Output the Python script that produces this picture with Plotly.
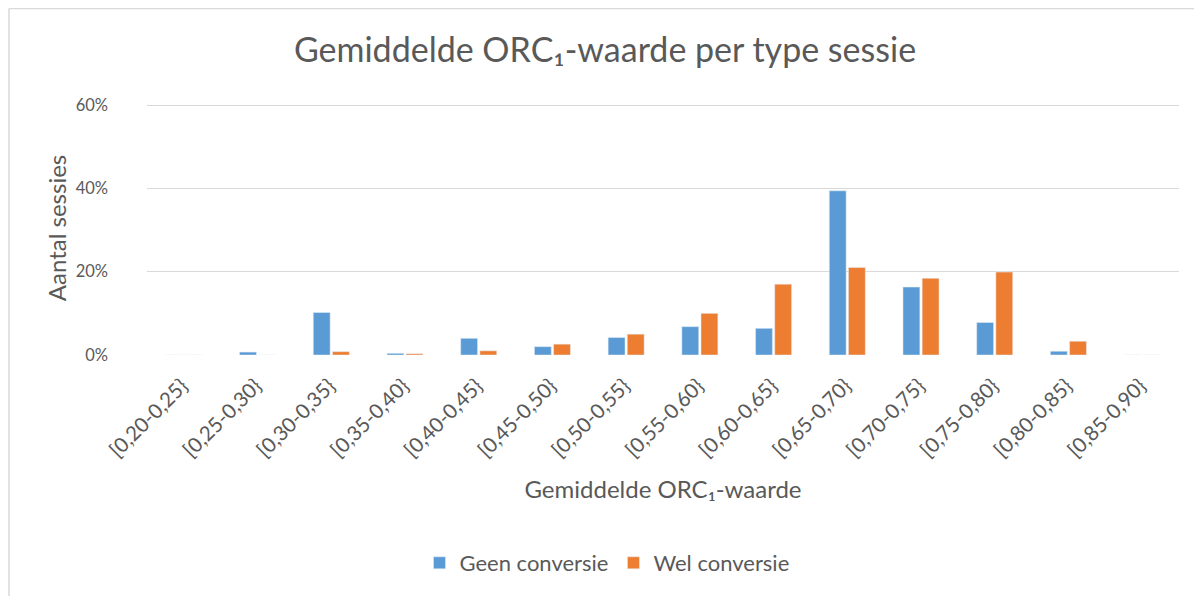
import plotly.graph_objects as go

categories = ["[0,20-0,25}", "[0,25-0,30}", "[0,30-0,35}", "[0,35-0,40}", "[0,40-0,45}",
              "[0,45-0,50}", "[0,50-0,55}", "[0,55-0,60}", "[0,60-0,65}", "[0,65-0,70}",
              "[0,70-0,75}", "[0,75-0,80}", "[0,80-0,85}", "[0,85-0,90}"]
geen_conversie = [0.0, 0.7, 10.2, 0.4, 4.0, 2.0, 4.2, 6.8, 6.4, 39.4, 16.3, 7.8, 0.9, 0.0]
wel_conversie = [0.0, 0.0, 0.8, 0.3, 1.0, 2.6, 5.0, 10.0, 17.0, 21.0, 18.4, 19.9, 3.3, 0.0]
y_ticks = [0, 20, 40, 60]
y_tick_labels = ["0%", "20%", "40%", "60%"]

FONT = "Lato, 'Open Sans', sans-serif"
TXT = "#595959"

fig = go.Figure()
fig.add_trace(go.Bar(x=categories, y=geen_conversie, name="Geen conversie",
                     marker=dict(color="#5B9BD5")))
fig.add_trace(go.Bar(x=categories, y=wel_conversie, name="Wel conversie",
                     marker=dict(color="#ED7D31")))

# page is rendered with an 8px body offset; figure coords = page coords - 8
OFF = 8
EXTRA = 4  # extra room above the 60% gridline so it is not hidden at the plot edge
W, H = 1194, 588
L, R, T, B = 147 - OFF, 23, 105 - OFF - EXTRA, 241
pw, ph = W - L - R, H - T - B
y_top = 60 * ph / (ph - EXTRA)

def px_to_paper_x(px):
    return (px - OFF - L) / pw

def px_to_paper_y(py):
    return (H - B - (py - OFF)) / ph

fig.update_layout(
    width=W, height=H,
    margin=dict(l=L, r=R, t=T, b=B, autoexpand=False),
    paper_bgcolor="white", plot_bgcolor="white",
    font=dict(family=FONT, color=TXT),
    title=dict(text="Gemiddelde ORC\u2081-waarde per type sessie",
               font=dict(size=34, color=TXT, family=FONT),
               x=(605 - OFF) / W, xanchor="center", xref="container",
               y=1 - (50 - OFF) / H, yanchor="middle", yref="container"),
    barmode="group", bargap=0.48, bargroupgap=0.12,
    showlegend=True,
    legend=dict(orientation="h", x=px_to_paper_x(607), xanchor="center",
                y=px_to_paper_y(563), yanchor="middle",
                font=dict(size=22, color=TXT, family=FONT),
                itemwidth=30, traceorder="normal"),
    xaxis=dict(
        tickangle=-45, tickfont=dict(size=20.5, color=TXT),
        showgrid=False, showline=False, zeroline=False, ticks="",
        ticklabelstandoff=14, ticklabelshift=-2,
        automargin=False,
        title=dict(text="Gemiddelde ORC\u2081-waarde", font=dict(size=24, color=TXT), standoff=20),
    ),
    yaxis=dict(
        range=[0, y_top], tickvals=y_ticks, ticktext=y_tick_labels,
        tickfont=dict(size=16.5, color=TXT),
        showgrid=True, gridcolor="#D9D9D9", gridwidth=1.2,
        zeroline=False, showline=False, ticks="",
        ticklabelstandoff=38, automargin=False,
        title=dict(text="Aantal sessies", font=dict(size=24, color=TXT), standoff=2),
    ),
    shapes=[
        dict(type="line", xref="paper", yref="paper",
             x0=px_to_paper_x(9), x1=px_to_paper_x(1220),
             y0=px_to_paper_y(8.5), y1=px_to_paper_y(8.5),
             line=dict(color="#D9D9D9", width=1.5)),
        dict(type="line", xref="paper", yref="paper",
             x0=px_to_paper_x(9), x1=px_to_paper_x(9),
             y0=px_to_paper_y(8.5), y1=px_to_paper_y(620),
             line=dict(color="#D9D9D9", width=1.5)),
    ],
)

fig.write_html("out.html")
